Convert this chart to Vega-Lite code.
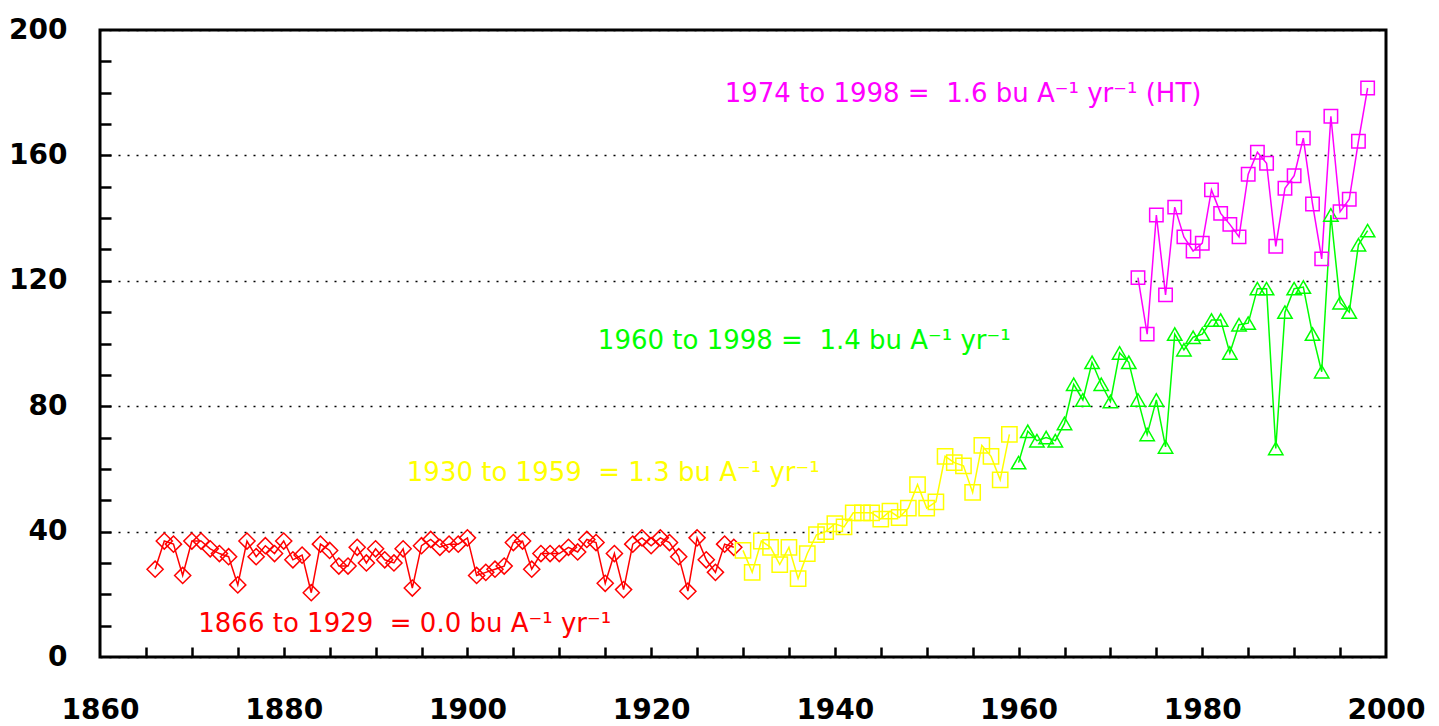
{
  "$schema": "https://vega.github.io/schema/vega-lite/v6.json",
  "width": 1286,
  "height": 627,
  "autosize": "none",
  "padding": {"left": 100, "top": 30, "right": 53, "bottom": 69},
  "background": "white",
  "config": {
    "view": {"stroke": "black", "strokeWidth": 3},
    "axis": {"labelColor": "black", "labelFont": "DejaVu Sans", "labelFontWeight": "bold", "labelFontSize": 28, "labelFlush": false, "labelOverlap": false}
  },
  "datasets": {
    "yields": [
      {"year":1866,"yield":28,"series":"1866-1929"},{"year":1867,"yield":37,"series":"1866-1929"},{"year":1868,"yield":36,"series":"1866-1929"},{"year":1869,"yield":26,"series":"1866-1929"},{"year":1870,"yield":37,"series":"1866-1929"},{"year":1871,"yield":37,"series":"1866-1929"},{"year":1872,"yield":34.5,"series":"1866-1929"},{"year":1873,"yield":33,"series":"1866-1929"},{"year":1874,"yield":32,"series":"1866-1929"},{"year":1875,"yield":23,"series":"1866-1929"},
      {"year":1876,"yield":37,"series":"1866-1929"},{"year":1877,"yield":32,"series":"1866-1929"},{"year":1878,"yield":35.5,"series":"1866-1929"},{"year":1879,"yield":33,"series":"1866-1929"},{"year":1880,"yield":37,"series":"1866-1929"},{"year":1881,"yield":31,"series":"1866-1929"},{"year":1882,"yield":32.5,"series":"1866-1929"},{"year":1883,"yield":20.5,"series":"1866-1929"},{"year":1884,"yield":36,"series":"1866-1929"},{"year":1885,"yield":34,"series":"1866-1929"},
      {"year":1886,"yield":29,"series":"1866-1929"},{"year":1887,"yield":29,"series":"1866-1929"},{"year":1888,"yield":35,"series":"1866-1929"},{"year":1889,"yield":30,"series":"1866-1929"},{"year":1890,"yield":34.5,"series":"1866-1929"},{"year":1891,"yield":31,"series":"1866-1929"},{"year":1892,"yield":30,"series":"1866-1929"},{"year":1893,"yield":34.5,"series":"1866-1929"},{"year":1894,"yield":22,"series":"1866-1929"},{"year":1895,"yield":35.5,"series":"1866-1929"},
      {"year":1896,"yield":37.5,"series":"1866-1929"},{"year":1897,"yield":35,"series":"1866-1929"},{"year":1898,"yield":36,"series":"1866-1929"},{"year":1899,"yield":36,"series":"1866-1929"},{"year":1900,"yield":38,"series":"1866-1929"},{"year":1901,"yield":26,"series":"1866-1929"},{"year":1902,"yield":27,"series":"1866-1929"},{"year":1903,"yield":28,"series":"1866-1929"},{"year":1904,"yield":29,"series":"1866-1929"},{"year":1905,"yield":36.5,"series":"1866-1929"},
      {"year":1906,"yield":37,"series":"1866-1929"},{"year":1907,"yield":28,"series":"1866-1929"},{"year":1908,"yield":33,"series":"1866-1929"},{"year":1909,"yield":33,"series":"1866-1929"},{"year":1910,"yield":33,"series":"1866-1929"},{"year":1911,"yield":35,"series":"1866-1929"},{"year":1912,"yield":33.5,"series":"1866-1929"},{"year":1913,"yield":37.5,"series":"1866-1929"},{"year":1914,"yield":36.5,"series":"1866-1929"},{"year":1915,"yield":23.5,"series":"1866-1929"},
      {"year":1916,"yield":33,"series":"1866-1929"},{"year":1917,"yield":21.5,"series":"1866-1929"},{"year":1918,"yield":36,"series":"1866-1929"},{"year":1919,"yield":38,"series":"1866-1929"},{"year":1920,"yield":35.5,"series":"1866-1929"},{"year":1921,"yield":38,"series":"1866-1929"},{"year":1922,"yield":36.5,"series":"1866-1929"},{"year":1923,"yield":32,"series":"1866-1929"},{"year":1924,"yield":21,"series":"1866-1929"},{"year":1925,"yield":38,"series":"1866-1929"},
      {"year":1926,"yield":31,"series":"1866-1929"},{"year":1927,"yield":27,"series":"1866-1929"},{"year":1928,"yield":36,"series":"1866-1929"},{"year":1929,"yield":35,"series":"1866-1929"},
      {"year":1930,"yield":34,"series":"1930-1959"},{"year":1931,"yield":27,"series":"1930-1959"},{"year":1932,"yield":37,"series":"1930-1959"},{"year":1933,"yield":35,"series":"1930-1959"},{"year":1934,"yield":29.5,"series":"1930-1959"},{"year":1935,"yield":35,"series":"1930-1959"},{"year":1936,"yield":25,"series":"1930-1959"},{"year":1937,"yield":33,"series":"1930-1959"},{"year":1938,"yield":39,"series":"1930-1959"},{"year":1939,"yield":40,"series":"1930-1959"},
      {"year":1940,"yield":42.5,"series":"1930-1959"},{"year":1941,"yield":41.5,"series":"1930-1959"},{"year":1942,"yield":46,"series":"1930-1959"},{"year":1943,"yield":46,"series":"1930-1959"},{"year":1944,"yield":46,"series":"1930-1959"},{"year":1945,"yield":44,"series":"1930-1959"},{"year":1946,"yield":46.5,"series":"1930-1959"},{"year":1947,"yield":44.5,"series":"1930-1959"},{"year":1948,"yield":47.5,"series":"1930-1959"},{"year":1949,"yield":55,"series":"1930-1959"},
      {"year":1950,"yield":47.5,"series":"1930-1959"},{"year":1951,"yield":49.5,"series":"1930-1959"},{"year":1952,"yield":64,"series":"1930-1959"},{"year":1953,"yield":62,"series":"1930-1959"},{"year":1954,"yield":61,"series":"1930-1959"},{"year":1955,"yield":52.5,"series":"1930-1959"},{"year":1956,"yield":67.5,"series":"1930-1959"},{"year":1957,"yield":64,"series":"1930-1959"},{"year":1958,"yield":56.5,"series":"1930-1959"},{"year":1959,"yield":71,"series":"1930-1959"},
      {"year":1960,"yield":62,"series":"1960-1998"},{"year":1961,"yield":72,"series":"1960-1998"},{"year":1962,"yield":69,"series":"1960-1998"},{"year":1963,"yield":70,"series":"1960-1998"},{"year":1964,"yield":69,"series":"1960-1998"},{"year":1965,"yield":74.5,"series":"1960-1998"},{"year":1966,"yield":87,"series":"1960-1998"},{"year":1967,"yield":82,"series":"1960-1998"},{"year":1968,"yield":94,"series":"1960-1998"},{"year":1969,"yield":87,"series":"1960-1998"},
      {"year":1970,"yield":81.5,"series":"1960-1998"},{"year":1971,"yield":97,"series":"1960-1998"},{"year":1972,"yield":94,"series":"1960-1998"},{"year":1973,"yield":82,"series":"1960-1998"},{"year":1974,"yield":71,"series":"1960-1998"},{"year":1975,"yield":82,"series":"1960-1998"},{"year":1976,"yield":67,"series":"1960-1998"},{"year":1977,"yield":103,"series":"1960-1998"},{"year":1978,"yield":98,"series":"1960-1998"},{"year":1979,"yield":102,"series":"1960-1998"},
      {"year":1980,"yield":103,"series":"1960-1998"},{"year":1981,"yield":107.5,"series":"1960-1998"},{"year":1982,"yield":107.5,"series":"1960-1998"},{"year":1983,"yield":97,"series":"1960-1998"},{"year":1984,"yield":106,"series":"1960-1998"},{"year":1985,"yield":106.5,"series":"1960-1998"},{"year":1986,"yield":117.5,"series":"1960-1998"},{"year":1987,"yield":117.5,"series":"1960-1998"},{"year":1988,"yield":66.5,"series":"1960-1998"},{"year":1989,"yield":110,"series":"1960-1998"},
      {"year":1990,"yield":117.5,"series":"1960-1998"},{"year":1991,"yield":118,"series":"1960-1998"},{"year":1992,"yield":103,"series":"1960-1998"},{"year":1993,"yield":91,"series":"1960-1998"},{"year":1994,"yield":141,"series":"1960-1998"},{"year":1995,"yield":113,"series":"1960-1998"},{"year":1996,"yield":110,"series":"1960-1998"},{"year":1997,"yield":131.5,"series":"1960-1998"},{"year":1998,"yield":136,"series":"1960-1998"},
      {"year":1973,"yield":121,"series":"1973-1998 HT"},{"year":1974,"yield":103,"series":"1973-1998 HT"},{"year":1975,"yield":141,"series":"1973-1998 HT"},{"year":1976,"yield":115.5,"series":"1973-1998 HT"},{"year":1977,"yield":143.5,"series":"1973-1998 HT"},{"year":1978,"yield":134,"series":"1973-1998 HT"},{"year":1979,"yield":129.5,"series":"1973-1998 HT"},{"year":1980,"yield":132,"series":"1973-1998 HT"},{"year":1981,"yield":149,"series":"1973-1998 HT"},{"year":1982,"yield":141.5,"series":"1973-1998 HT"},
      {"year":1983,"yield":138,"series":"1973-1998 HT"},{"year":1984,"yield":134,"series":"1973-1998 HT"},{"year":1985,"yield":154,"series":"1973-1998 HT"},{"year":1986,"yield":161,"series":"1973-1998 HT"},{"year":1987,"yield":157.5,"series":"1973-1998 HT"},{"year":1988,"yield":131,"series":"1973-1998 HT"},{"year":1989,"yield":149.5,"series":"1973-1998 HT"},{"year":1990,"yield":153.5,"series":"1973-1998 HT"},{"year":1991,"yield":165.5,"series":"1973-1998 HT"},{"year":1992,"yield":144.5,"series":"1973-1998 HT"},
      {"year":1993,"yield":127,"series":"1973-1998 HT"},{"year":1994,"yield":172.5,"series":"1973-1998 HT"},{"year":1995,"yield":142,"series":"1973-1998 HT"},{"year":1996,"yield":146,"series":"1973-1998 HT"},{"year":1997,"yield":164.5,"series":"1973-1998 HT"},{"year":1998,"yield":181.5,"series":"1973-1998 HT"}
    ],
    "labels": [
      {"year":1870.7,"yield":8,"series":"1866-1929","label":"1866 to 1929 \u00a0= 0.0 bu A⁻¹ yr⁻¹"},
      {"year":1893.4,"yield":56,"series":"1930-1959","label":"1930 to 1959 \u00a0= 1.3 bu A⁻¹ yr⁻¹"},
      {"year":1914.2,"yield":98.2,"series":"1960-1998","label":"1960 to 1998 = \u00a01.4 bu A⁻¹ yr⁻¹"},
      {"year":1928.0,"yield":177,"series":"1973-1998 HT","label":"1974 to 1998 = \u00a01.6 bu A⁻¹ yr⁻¹ (HT)"}
    ]
  },
  "resolve": {"axis": {"x": "independent", "y": "independent"}},
  "layer": [
    {
      "data": {"name": "yields"},
      "mark": {"type": "line", "strokeWidth": 1.5},
      "encoding": {
        "x": {"field": "year", "type": "quantitative", "scale": {"domain": [1860, 2000], "nice": false, "zero": false},
          "axis": {"orient": "bottom", "title": null, "values": [1860,1880,1900,1920,1940,1960,1980,2000], "format": "d", "ticks": false, "domain": false, "grid": false, "labelPadding": 39, "labelBaseline": "top", "labelAlign": "center"}},
        "y": {"field": "yield", "type": "quantitative", "scale": {"domain": [0, 200], "nice": false},
          "axis": {"orient": "left", "title": null, "values": [0,40,80,120,160,200], "ticks": false, "domain": false, "grid": true, "gridColor": "black", "gridDash": [2,7], "gridWidth": 1.5, "labelPadding": 33, "labelBaseline": "middle"}},
        "color": {"field": "series", "type": "nominal", "scale": {"domain": ["1866-1929","1930-1959","1960-1998","1973-1998 HT"], "range": ["#ff0000","#ffff00","#00ff00","#ff00ff"]}, "legend": null},
        "detail": {"field": "series"}
      }
    },
    {
      "data": {"name": "yields"},
      "mark": {"type": "point", "filled": false, "strokeWidth": 1.5, "opacity": 1},
      "encoding": {
        "x": {"field": "year", "type": "quantitative", "scale": {"domain": [1860, 2000], "nice": false, "zero": false},
          "axis": {"orient": "bottom", "title": null, "values": [1865,1870,1875,1880,1885,1890,1895,1900,1905,1910,1915,1920,1925,1930,1935,1940,1945,1950,1955,1960,1965,1970,1975,1980,1985,1990,1995], "labels": false, "domain": false, "grid": false, "tickSize": 10, "tickWidth": 2.5, "tickColor": "black", "offset": -10}},
        "y": {"field": "yield", "type": "quantitative", "scale": {"domain": [0, 200], "nice": false},
          "axis": {"orient": "left", "title": null, "values": [10,20,30,40,50,60,70,80,90,100,110,120,130,140,150,160,170,180,190], "labels": false, "domain": false, "grid": false, "tickSize": 11, "tickWidth": 2.5, "tickColor": "black", "offset": -11}},
        "color": {"field": "series", "type": "nominal", "scale": {"domain": ["1866-1929","1930-1959","1960-1998","1973-1998 HT"], "range": ["#ff0000","#ffff00","#00ff00","#ff00ff"]}, "legend": null},
        "shape": {"field": "series", "type": "nominal", "scale": {"domain": ["1866-1929","1930-1959","1960-1998","1973-1998 HT"], "range": ["diamond","square","triangle-up","square"]}, "legend": null},
        "size": {"field": "series", "type": "nominal", "scale": {"domain": ["1866-1929","1930-1959","1960-1998","1973-1998 HT"], "range": [260,180,200,170]}, "legend": null}
      }
    },
    {
      "data": {"name": "labels"},
      "mark": {"type": "text", "align": "left", "baseline": "alphabetic", "font": "DejaVu Sans", "fontSize": 26},
      "encoding": {
        "x": {"field": "year", "type": "quantitative", "axis": null},
        "y": {"field": "yield", "type": "quantitative", "axis": null},
        "text": {"field": "label"},
        "color": {"field": "series", "type": "nominal", "legend": null}
      }
    }
  ]
}
